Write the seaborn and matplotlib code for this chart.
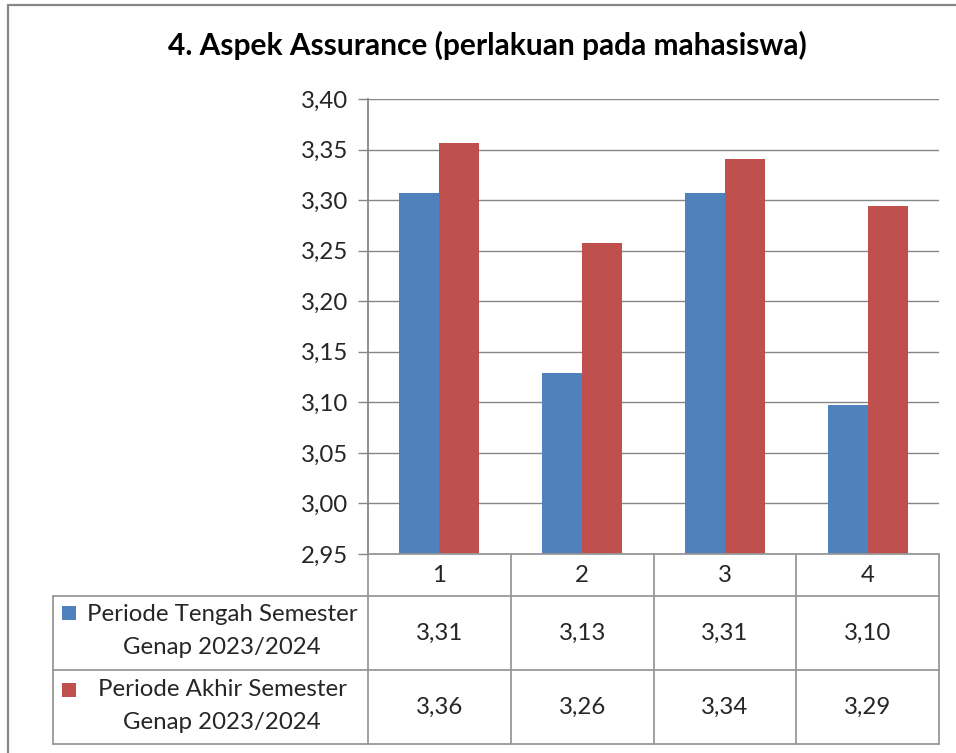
import matplotlib
matplotlib.use("Agg")
import matplotlib.pyplot as plt
import matplotlib.transforms as mtransforms
from matplotlib.lines import Line2D
from matplotlib.patches import Rectangle
import seaborn as sns
import pandas as pd

categories = ["1", "2", "3", "4"]
series_names = ["Periode Tengah Semester\nGenap 2023/2024",
                "Periode Akhir Semester\nGenap 2023/2024"]
tengah = [3.307, 3.129, 3.307, 3.097]
akhir = [3.356, 3.258, 3.341, 3.294]
table_tengah = ["3,31", "3,13", "3,31", "3,10"]
table_akhir = ["3,36", "3,26", "3,34", "3,29"]
title = "4. Aspek Assurance (perlakuan pada mahasiswa)"
colors = ["#4F81BD", "#C0504D"]
y_ticks = [2.95, 3.00, 3.05, 3.10, 3.15, 3.20, 3.25, 3.30, 3.35, 3.40]

sns.set_theme(style="white")
plt.rcParams['font.family'] = ['Lato', 'DejaVu Sans']

W, H = 956, 753
fig = plt.figure(figsize=(W / 100, H / 100), dpi=100)

def fx(x):
    return x / W

def fy(y):
    return 1 - y / H

FS = 17.3
L, R, T, B = 368, 939, 99, 554
ax = fig.add_axes([fx(L), fy(B), fx(R) - fx(L), fy(T) - fy(B)])

df = pd.DataFrame({
    "cat": categories * 2,
    "val": tengah + akhir,
    "series": [series_names[0]] * 4 + [series_names[1]] * 4,
})
sns.barplot(data=df, x="cat", y="val", hue="series", order=categories,
            hue_order=series_names, palette=colors, width=0.56, gap=0,
            saturation=1, edgecolor="none", linewidth=0, ax=ax, legend=False,
            zorder=3)

ax.set_ylim(2.95, 3.40)
ax.set_xlim(-0.5, 3.5)
ax.set_yticks(y_ticks)
ax.set_yticklabels([f"{v:.2f}".replace(".", ",") for v in y_ticks], fontsize=FS)
ax.set_xticks([])
ax.set_xlabel("")
ax.set_ylabel("")
grid_c = "#868686"
for s in ["top", "right", "bottom"]:
    ax.spines[s].set_visible(False)
ax.spines["left"].set_color(grid_c)
ax.spines["left"].set_linewidth(1.3)
ax.tick_params(axis="y", length=7.2, width=1.0, color=grid_c, pad=7, left=True)
ax.yaxis.grid(True, color=grid_c, linewidth=1.0, zorder=0)
ax.set_axisbelow(True)

# Title
fig.text(fx(487), fy(45), title, ha="center", va="center", fontsize=21.5,
         fontweight="bold", color="#000000")

# Outer border
lc = "#878787"
fig.add_artist(Line2D([fx(8), fx(956)], [fy(5), fy(5)], color=lc, lw=1.6))
fig.add_artist(Line2D([fx(8), fx(8)], [fy(5), fy(753)], color=lc, lw=1.6))

# Data table below axis
trans = mtransforms.blended_transform_factory(ax.transData, fig.transFigure)
tc = "#979797"
rows_y = [554, 596, 670, 744]
for x in [-0.5, 0.5, 1.5, 2.5, 3.5]:
    ax.add_artist(Line2D([x, x], [fy(554), fy(744)], transform=trans,
                         color=tc, lw=1.3, clip_on=False))
for y in rows_y[1:]:
    fig.add_artist(Line2D([fx(53), fx(R)], [fy(y), fy(y)], color=tc, lw=1.3))
fig.add_artist(Line2D([fx(L), fx(R)], [fy(554), fy(554)], color=tc, lw=1.3))
fig.add_artist(Line2D([fx(53), fx(53)], [fy(596), fy(744)], color=tc, lw=1.3))

for i, c in enumerate(categories):
    ax.text(i, fy(576), c, transform=trans, ha="center", va="center",
            fontsize=FS, clip_on=False)
    ax.text(i, fy(633), table_tengah[i], transform=trans, ha="center",
            va="center", fontsize=FS, clip_on=False)
    ax.text(i, fy(707), table_akhir[i], transform=trans, ha="center",
            va="center", fontsize=FS, clip_on=False)

# Legend keys in row headers
for (yc, name, col, ky) in [(631, series_names[0], colors[0], 613),
                            (706, series_names[1], colors[1], 690)]:
    fig.add_artist(Rectangle((fx(62), fy(ky + 7)), fx(14), fy(0) - fy(14),
                             facecolor=col, edgecolor="none"))
    fig.text(fx(222), fy(yc), name, ha="center", va="center", fontsize=FS,
             linespacing=1.75)

fig.savefig("out.png", dpi=100)
